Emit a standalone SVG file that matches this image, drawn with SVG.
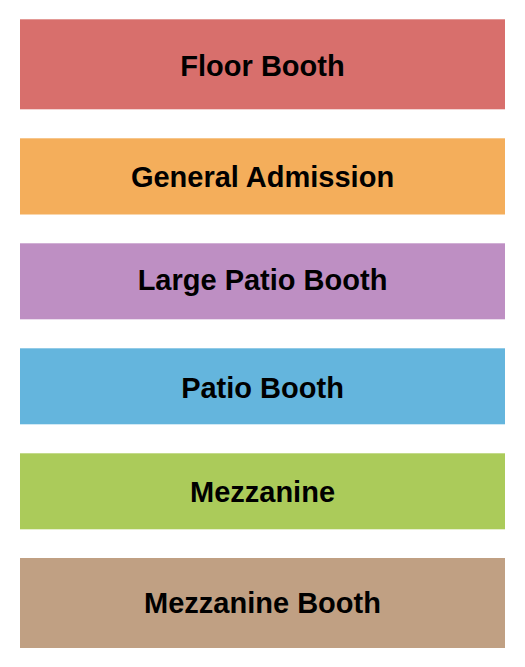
<svg xmlns="http://www.w3.org/2000/svg" width="525" height="667" viewBox="0 0 525 667">
<style>
.lbl{font-family:"Liberation Sans",Arial,sans-serif;font-weight:bold;font-size:29px;fill:#000;text-anchor:middle}
</style>
<rect width="525" height="667" fill="#fff"/>
<g id="floor-booth"><rect x="20" y="19.3" width="485" height="90" fill="#D86F6C"/><text class="lbl" x="262.5" y="76">Floor Booth</text></g>
<g id="general-admission"><rect x="20" y="138.3" width="485" height="76.2" fill="#F4AE5B"/><text class="lbl" x="262.5" y="186.7">General Admission</text></g>
<g id="large-patio-booth"><rect x="20" y="243.3" width="485" height="76" fill="#BE8FC3"/><text class="lbl" x="262.5" y="289.5">Large Patio Booth</text></g>
<g id="patio-booth"><rect x="20" y="348.3" width="485" height="76" fill="#64B5DD"/><text class="lbl" x="262.5" y="397.5">Patio Booth</text></g>
<g id="mezzanine"><rect x="20" y="453.3" width="485" height="76" fill="#ABCB5A"/><text class="lbl" x="262.5" y="502.2">Mezzanine</text></g>
<g id="mezzanine-booth"><rect x="20" y="558" width="485" height="90" fill="#C0A083"/><text class="lbl" x="262.5" y="612.8">Mezzanine Booth</text></g>
<g id="connectors"/>
</svg>
